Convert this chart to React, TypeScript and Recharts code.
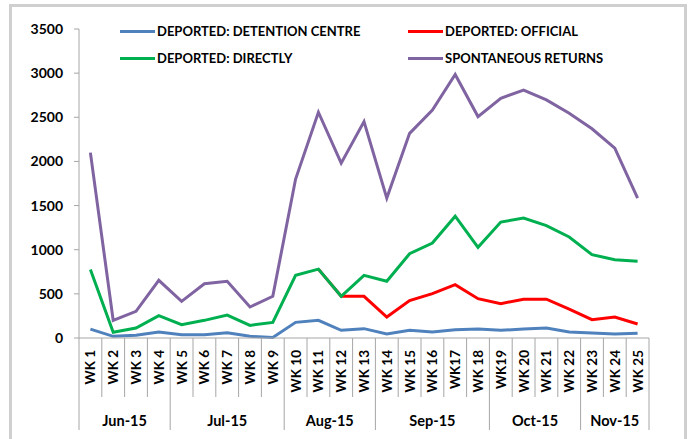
import React from 'react';
import { LineChart, Line, XAxis, YAxis } from 'recharts';

const weeks = ['WK 1', 'WK 2', 'WK 3', 'WK 4', 'WK 5', 'WK 6', 'WK 7', 'WK 8', 'WK 9', 'WK 10', 'WK 11', 'WK 12', 'WK 13', 'WK 14', 'WK 15', 'WK 16', 'WK17', 'WK 18', 'WK19', 'WK 20', 'WK 21', 'WK 22', 'WK 23', 'WK 24', 'WK 25'];
const months = ['Jun-15', 'Jul-15', 'Aug-15', 'Sep-15', 'Oct-15', 'Nov-15'];
const monthSpans = [4, 5, 4, 5, 4, 3];

const detention = [100, 19, 30, 68, 38, 38, 60, 19, 5, 177, 200, 87, 106, 45, 87, 68, 94, 102, 87, 102, 113, 68, 57, 45, 55];
const official = [null, null, null, null, null, null, null, null, null, null, 780, 472, 472, 238, 423, 502, 604, 445, 389, 440, 440, 328, 208, 238, 159];
const directly = [776, 66, 113, 253, 151, 200, 260, 143, 177, 710, 780, 472, 710, 642, 955, 1076, 1380, 1027, 1313, 1359, 1272, 1144, 944, 887, 868];
const spontaneous = [2100, 200, 302, 653, 415, 615, 642, 351, 472, 1800, 2557, 1981, 2451, 1585, 2318, 2583, 2985, 2508, 2716, 2808, 2697, 2545, 2370, 2150, 1585];

const yTicks = [0, 500, 1000, 1500, 2000, 2500, 3000, 3500];

const seriesNames = ['DEPORTED: DETENTION CENTRE', 'DEPORTED: OFFICIAL', 'DEPORTED: DIRECTLY', 'SPONTANEOUS RETURNS'];
const seriesKeys = ['detention', 'official', 'directly', 'spontaneous'];
const seriesColors = ['#4f81bd', '#ff0000', '#00b050', '#8064a2'];

const data = weeks.map((wk, i) => ({
  wk,
  detention: detention[i],
  official: official[i],
  directly: directly[i],
  spontaneous: spontaneous[i],
}));

const monthStart: Record<number, { label: string; span: number }> = {};
{
  let idx = 0;
  months.forEach((m, k) => {
    monthStart[idx] = { label: m, span: monthSpans[k] };
    idx += monthSpans[k];
  });
}

const W = 691;
const H = 439;
const MARGIN = { top: 29, right: 42, bottom: 0, left: 19 };
const Y_AXIS_W = 60;
const PLOT_W = W - MARGIN.left - MARGIN.right - Y_AXIS_W;
const BAND = PLOT_W / weeks.length;
const FONT = 'Lato, "Open Sans", sans-serif';
const GRID = '#a6a6a6';

const WeekTick = (props: any) => {
  const { x, y, payload, index } = props;
  const band = BAND;
  const left = x - band / 2;
  const ms = monthStart[index];
  const els: any[] = [];
  els.push(<line key="l" x1={left} x2={left} y1={y} y2={y + (ms ? 92 : 59)} stroke={GRID} strokeWidth={1} />);
  if (index === weeks.length - 1) {
    els.push(<line key="r" x1={left + band} x2={left + band} y1={y} y2={y + 92} stroke={GRID} strokeWidth={1} />);
  }
  els.push(
    <text key="t" transform={`translate(${x},${y + 12}) rotate(-90)`} textAnchor="end" dominantBaseline="central" fontSize={13.5} fontWeight={700} fill="#000" fontFamily={FONT}>
      {payload.value}
    </text>
  );
  if (ms) {
    els.push(
      <text key="m" x={left + (ms.span * band) / 2} y={y + 82} textAnchor="middle" dominantBaseline="central" fontSize={14.5} fontWeight={700} fill="#000" fontFamily={FONT}>
        {ms.label}
      </text>
    );
  }
  return <g>{els}</g>;
};

const legendPos = [
  { left: 120, top: 31 },
  { left: 408, top: 31 },
  { left: 120, top: 58 },
  { left: 408, top: 58 },
];

export default function App() {
  return (
    <div style={{ position: 'absolute', left: 0, top: 0, width: W, height: H, overflow: 'hidden', background: '#fff' }}>
      <div style={{ position: 'absolute', left: 9, top: 4, width: 678, height: 460, border: '3px solid #cfcfcf', boxSizing: 'border-box' }} />
      <LineChart width={W} height={H} data={data} margin={MARGIN} style={{ fontFamily: FONT }}>
        <XAxis dataKey="wk" interval={0} height={101} padding={{ left: BAND / 2, right: BAND / 2 }} tickSize={0} tickMargin={0} tickLine={false} axisLine={{ stroke: GRID }} tick={<WeekTick />} />
        <YAxis
          width={Y_AXIS_W}
          domain={[0, 3500]}
          ticks={yTicks}
          interval={0}
          tickSize={5}
          tickMargin={11}
          axisLine={{ stroke: GRID }}
          tickLine={{ stroke: GRID }}
          tick={{ fontSize: 14, fontWeight: 700, fill: '#000', fontFamily: FONT }}
        />
        {seriesKeys.map((k, i) => (
          <Line key={k} type="linear" dataKey={k} name={seriesNames[i]} stroke={seriesColors[i]} strokeWidth={3} dot={false} activeDot={false} isAnimationActive={false} connectNulls={false} />
        ))}
      </LineChart>
      {seriesNames.map((n, i) => (
        <div key={n} style={{ position: 'absolute', left: legendPos[i].left, top: legendPos[i].top - 8, height: 16, display: 'flex', alignItems: 'center', fontFamily: FONT, fontWeight: 700, fontSize: 13, color: '#000', whiteSpace: 'nowrap' }}>
          <div style={{ width: 35, height: 3, background: seriesColors[i], marginRight: 2 }} />
          <span>{n}</span>
        </div>
      ))}
    </div>
  );
}
